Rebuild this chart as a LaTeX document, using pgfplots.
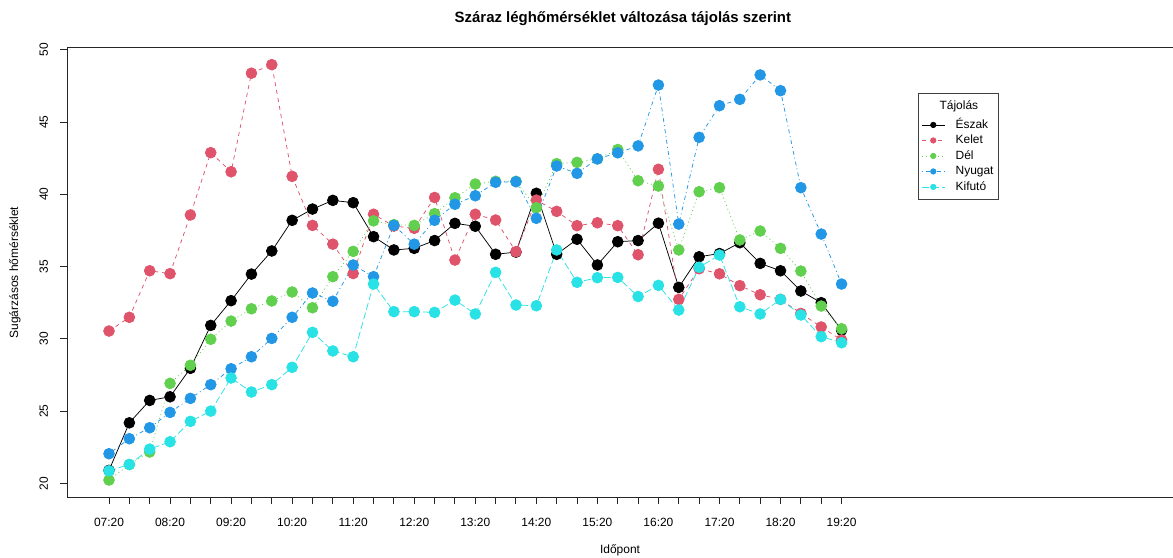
\documentclass[border=0pt]{standalone}
\usepackage{fontspec}
\setmainfont{Liberation Sans}
\usepackage{pgfplots}
\usepackage{pgfplotstable}
\pgfplotsset{compat=1.18}
\definecolor{cN}{HTML}{000000}
\definecolor{cK}{HTML}{DF536B}
\definecolor{cD}{HTML}{61D04F}
\definecolor{cNy}{HTML}{2297E6}
\definecolor{cKi}{HTML}{28E2E5}

\pgfplotstableread{
i  n     k     d     ny    ki
0  20.90 30.54 20.23 22.05 20.87
1  24.19 31.49 21.30 23.09 21.31
2  25.74 34.71 22.17 23.85 22.37
3  25.99 34.51 26.92 24.91 22.88
4  27.96 38.57 28.17 25.88 24.29
5  30.93 42.88 29.97 26.83 25.00
6  32.64 41.56 31.23 27.93 27.29
7  34.48 48.38 32.08 28.76 26.32
8  36.08 48.97 32.62 30.03 26.83
9  38.20 41.24 33.24 31.49 28.03
10 38.98 37.85 32.15 33.17 30.45
11 39.58 36.55 34.30 32.60 29.16
12 39.42 34.52 36.05 35.11 28.76
13 37.07 38.62 38.16 34.30 33.79
14 36.15 37.80 37.90 37.85 31.88
15 36.26 37.65 37.85 36.55 31.88
16 36.80 39.78 38.66 38.20 31.83
17 37.99 35.45 39.76 39.31 32.68
18 37.79 38.62 40.71 39.90 31.72
19 35.85 38.22 40.90 40.83 34.60
20 36.00 36.03 40.90 40.87 32.34
21 40.07 39.60 39.07 38.34 32.29
22 35.85 38.82 42.12 41.96 36.15
23 36.89 37.83 42.21 41.45 33.91
24 35.11 38.03 42.45 42.45 34.23
25 36.72 37.83 43.10 42.87 34.25
26 36.80 35.82 40.94 43.35 32.93
27 38.00 41.73 40.57 47.56 33.70
28 33.56 32.73 36.15 37.94 31.99
29 35.68 34.85 40.18 43.94 34.95
30 35.90 34.50 40.46 46.13 35.80
31 36.65 33.68 36.84 46.57 32.22
32 35.22 33.05 37.46 48.26 31.72
33 34.71 32.73 36.26 47.17 32.73
34 33.31 31.76 34.69 40.46 31.65
35 32.50 30.82 32.27 37.25 30.15
36 30.60 29.92 30.70 33.79 29.73
}\data

\begin{document}
\begin{tikzpicture}
\useasboundingbox (0,0) rectangle (1173bp,558bp);
\begin{axis}[
  at={(67bp,60.9bp)}, anchor=south west,
  scale only axis, width=1113bp, height=449.2bp,
  xmin=-2.064, xmax=52.63, ymin=19.05, ymax=50.13,
  font=\fontsize{12}{14}\selectfont,
  /pgf/number format/assume math mode=true,
  axis line style={black!85, line width=1bp},
  tick style={black!85, line width=1bp},
  tick align=outside, major tick length=7.2bp,
  xtick pos=bottom, ytick pos=left,
  xtick={0,...,36},
  xticklabels={07:20,{},{},08:20,{},{},09:20,{},{},10:20,{},{},11:20,{},{},12:20,{},{},13:20,{},{},14:20,{},{},15:20,{},{},16:20,{},{},17:20,{},{},18:20,{},{},19:20},
  ytick={20,25,30,35,40,45,50},
  xticklabel style={anchor=center, inner sep=0pt, yshift=-18bp},
  yticklabel style={anchor=center, inner sep=0pt, xshift=-16bp, rotate=90},
  title={Száraz léghőmérséklet változása tájolás szerint},
  every axis title/.style={at={(rel axis cs:0.4995,1)}, anchor=center, yshift=28.9bp, font=\fontsize{15}{18}\selectfont\bfseries},
  xlabel={Időpont},
  every axis x label/.style={at={(rel axis cs:0.4969,0)}, anchor=center, yshift=-53bp},
  ylabel={Sugárzásos hőmérséklet},
  every axis y label/.style={at={(rel axis cs:0,0.5)}, xshift=-52bp, rotate=90, anchor=center},
  legend style={at={(0.7646,0.8989)}, anchor=north west, draw=black!75, line width=0.8bp,
    font=\fontsize{12}{14}\selectfont, inner xsep=3bp, inner ysep=5bp, row sep=1bp, column sep=9bp,
    nodes={inner sep=1.5bp, text height=9bp, text depth=2.5bp}},
  legend cell align=left,
  legend image code/.code={\draw[mark repeat=2,mark phase=2,#1] plot coordinates {(0bp,0bp) (11.5bp,0bp) (23bp,0bp)};},
  every axis plot/.append style={line width=0.75bp, mark=*, mark size=5.4bp},
]
\addplot[cN, solid, mark options={solid, fill=cN, draw=cN}, forget plot] table[x=i, y=n] {\data};
\addplot[cK, dash pattern=on 4bp off 4bp, mark options={solid, fill=cK, draw=cK}, forget plot] table[x=i, y=k] {\data};
\addplot[cD, dash pattern=on 1bp off 3bp, mark options={solid, fill=cD, draw=cD}, forget plot] table[x=i, y=d] {\data};
\addplot[cNy, dash pattern=on 1bp off 3bp on 4bp off 3bp, mark options={solid, fill=cNy, draw=cNy}, forget plot] table[x=i, y=ny] {\data};
\addplot[cKi, dash pattern=on 7bp off 3bp, mark options={solid, fill=cKi, draw=cKi}, forget plot] table[x=i, y=ki] {\data};

\addlegendimage{empty legend}
\addlegendentry[text depth=6bp]{\hspace*{-16bp}Tájolás}
\addlegendimage{cN, solid, line width=0.75bp, mark=*, mark size=2.7bp, mark options={solid, fill=cN}}
\addlegendentry{Észak}
\addlegendimage{cK, dash pattern=on 4bp off 4bp, line width=0.75bp, mark=*, mark size=2.7bp, mark options={solid, fill=cK}}
\addlegendentry{Kelet}
\addlegendimage{cD, dash pattern=on 1bp off 3bp, line width=0.75bp, mark=*, mark size=2.7bp, mark options={solid, fill=cD}}
\addlegendentry{Dél}
\addlegendimage{cNy, dash pattern=on 1bp off 3bp on 4bp off 3bp, line width=0.75bp, mark=*, mark size=2.7bp, mark options={solid, fill=cNy}}
\addlegendentry{Nyugat}
\addlegendimage{cKi, dash pattern=on 7bp off 3bp, line width=0.75bp, mark=*, mark size=2.7bp, mark options={solid, fill=cKi}}
\addlegendentry{Kifutó}
\end{axis}
\end{tikzpicture}
\end{document}
